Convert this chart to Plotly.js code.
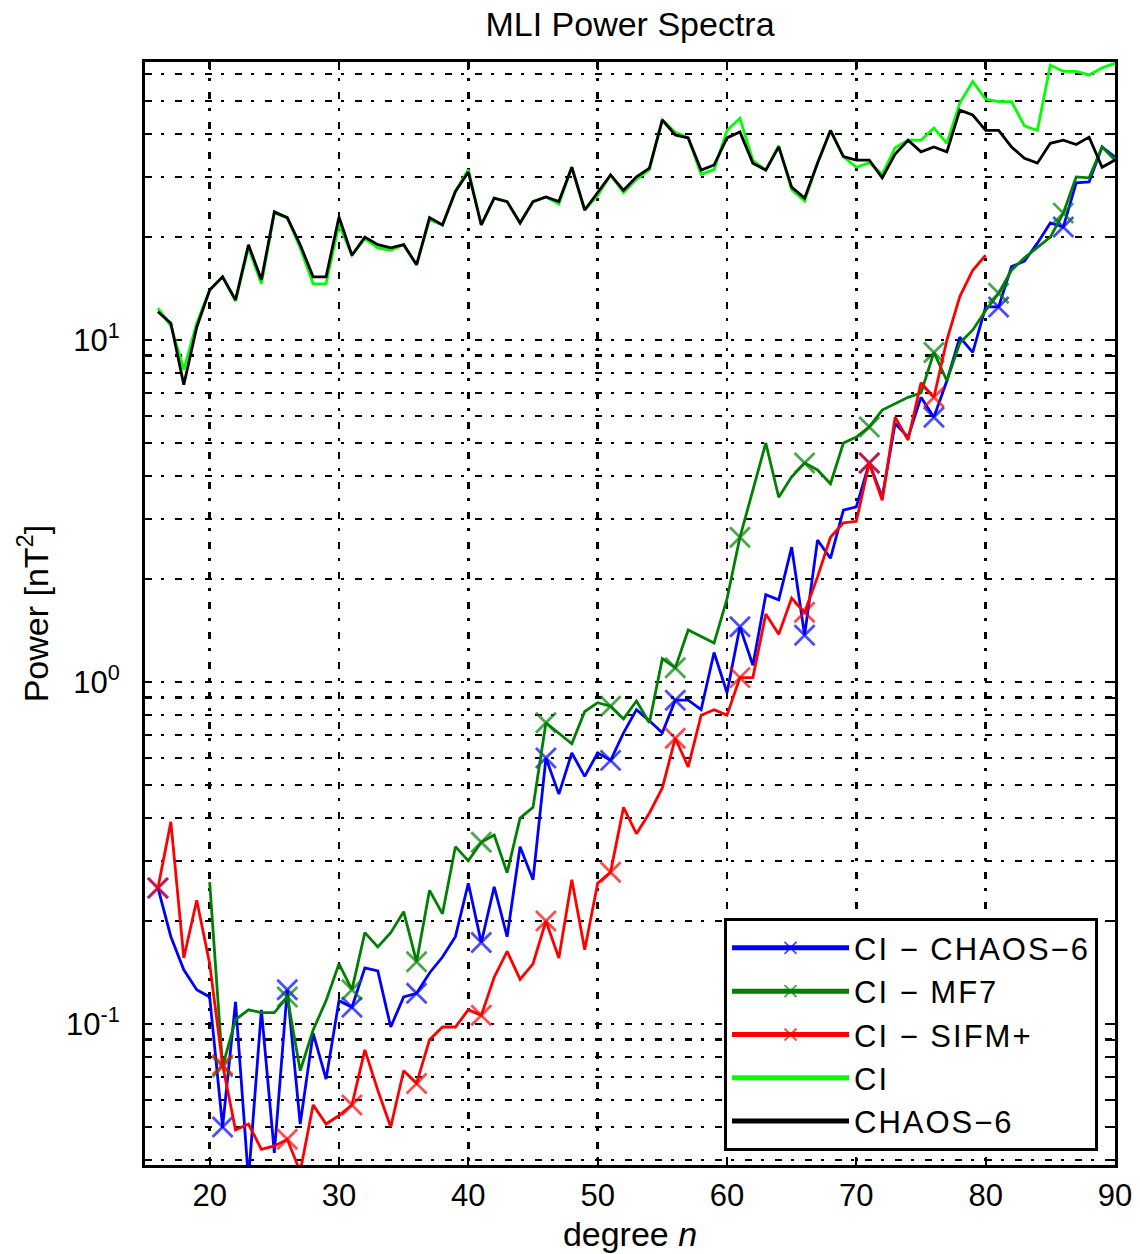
<!DOCTYPE html>
<html><head><meta charset="utf-8">
<script src="https://cdn.plot.ly/plotly-3.0.1.min.js"></script>
<style>
html,body{margin:0;padding:0;background:#fff;}
#chart{width:1140px;height:1254px;}
.legendtext{letter-spacing:2px;}
</style>
</head><body><div id="chart"></div>
<script>
// ---- data ----
const degreesAll = [16,17,18,19,20,21,22,23,24,25,26,27,28,29,30,31,32,33,34,35,36,37,38,39,40,41,42,43,44,45,46,47,48,49,50,51,52,53,54,55,56,57,58,59,60,61,62,63,64,65,66,67,68,69,70,71,72,73,74,75,76,77,78,79,80,81,82,83,84,85,86,87,88,89,90];
const chaos6 = [12.1,11.2,7.4,10.9,14.0,15.3,13.1,19.0,15.0,23.7,22.8,19.0,15.3,15.3,22.9,17.7,20.0,19.0,18.6,19.0,16.6,22.8,21.7,27.2,31.0,21.7,26.0,25.4,22.0,25.4,26.2,25.4,32.0,24.0,27.0,30.4,27.4,30.0,31.8,44.0,39.8,39.0,31.4,32.5,39.0,40.6,32.9,31.4,36.7,28.0,26.0,32.9,41.0,34.4,33.6,33.6,29.8,35.0,38.4,35.5,36.7,35.5,47.0,45.5,41.0,41.0,36.7,34.0,32.9,37.6,38.4,37.3,39.2,32.0,33.6];
const ci = [12.4,11.0,8.2,11.2,14.0,15.3,13.0,18.6,14.6,23.5,22.8,18.6,14.6,14.6,21.8,17.7,19.8,18.6,18.3,19.0,16.6,22.5,21.7,27.2,31.5,21.7,26.0,25.4,22.0,25.4,26.2,25.0,32.0,24.0,26.5,30.4,27.0,29.5,31.5,44.0,40.5,39.0,30.5,31.5,41.0,44.5,33.5,31.4,37.0,27.5,25.5,33.0,41.0,34.4,32.0,33.0,30.5,36.5,38.4,38.4,41.7,37.6,49.3,57.0,50.6,49.8,49.8,42.3,41.0,63.7,61.0,61.0,59.6,62.5,64.5];
const ciMinusChaos6 = [0.25,0.18,0.144,0.126,0.12,0.05,0.116,0.035,0.11,0.042,0.126,0.051,0.094,0.069,0.117,0.112,0.146,0.143,0.098,0.12,0.123,0.141,0.157,0.18,0.258,0.173,0.252,0.18,0.33,0.264,0.60,0.47,0.62,0.53,0.62,0.59,0.71,0.83,0.77,0.71,0.885,0.885,0.83,1.22,0.93,1.45,1.12,1.8,1.74,2.48,1.37,2.6,2.3,3.18,3.25,4.37,3.47,5.7,5.2,6.8,5.95,7.6,10.2,9.2,12.5,12.5,16.4,17.0,19.2,22.0,21.4,28.8,29.0,36.7,34.3];
const degreesMf7 = [20,21,22,23,24,25,26,27,28,29,30,31,32,33,34,35,36,37,38,39,40,41,42,43,44,45,46,47,48,49,50,51,52,53,54,55,56,57,58,59,60,61,62,63,64,65,66,67,68,69,70,71,72,73,74,75,76,77,78,79,80,81,82,83,84,85,86,87,88,89,90];
const ciMinusMf7 = [0.26,0.075,0.103,0.11,0.108,0.108,0.12,0.073,0.096,0.117,0.15,0.126,0.185,0.168,0.185,0.213,0.152,0.246,0.21,0.33,0.30,0.34,0.357,0.277,0.40,0.43,0.76,0.71,0.66,0.82,0.87,0.85,0.78,0.88,0.76,1.17,1.1,1.42,1.36,1.3,1.75,2.65,3.64,5.0,3.47,3.98,4.37,4.17,3.8,5.0,5.2,5.57,6.24,6.5,6.8,7.0,9.2,7.6,9.8,10.7,12.2,13.7,16.0,17.4,18.7,20.0,23.5,30.0,29.8,36.7,33.6];
const degreesSifm = [16,17,18,19,20,21,22,23,24,25,26,27,28,29,30,31,32,33,34,35,36,37,38,39,40,41,42,43,44,45,46,47,48,49,50,51,52,53,54,55,56,57,58,59,60,61,62,63,64,65,66,67,68,69,70,71,72,73,74,75,76,77,78,79,80];
const ciMinusSifm = [0.25,0.39,0.156,0.23,0.15,0.076,0.049,0.051,0.043,0.044,0.046,0.037,0.058,0.051,0.054,0.058,0.084,0.064,0.05,0.073,0.067,0.09,0.098,0.098,0.11,0.106,0.137,0.163,0.135,0.15,0.2,0.156,0.264,0.165,0.258,0.278,0.43,0.36,0.414,0.49,0.685,0.565,0.8,0.83,0.8,1.03,1.03,1.58,1.38,1.76,1.6,2.03,2.65,2.92,2.95,4.37,3.4,5.95,5.1,7.5,6.8,10.0,13.4,16.0,17.7];

const xTickVals = [20,30,40,50,60,70,80,90];
const xTickText = ['20','30','40','50','60','70','80','90'];
const yMajorVals = [0.1, 1, 10];
const yMajorText = ['10<sup>-1</sup>','10<sup>0</sup>','10<sup>1</sup>'];

// ---- minor log gridlines (2..9 x decade) ----
const yMinorVals = [];
[0.01, 0.1, 1, 10].forEach(function(dec){
  [2,3,4,5,6,7,8,9].forEach(function(d){
    const v = +(d*dec).toPrecision(3);
    if (v >= 0.0387 && v <= 65) yMinorVals.push(v);
  });
});

function markerSizes(deg){ return deg.map(function(n){ return ((n - 16) % 5 === 0) ? 20 : 0; }); }

const FONT = 'Liberation Sans, Arial, Helvetica, sans-serif';
const LW = 2.8;

function diffTrace(x, y, name, color){
  return {x:x, y:y, name:name, type:'scatter', mode:'lines+markers',
    line:{color:color, width:LW},
    marker:{symbol:'x-thin-open', size:markerSizes(x), color:color, line:{color:color, width:LW}},
    cliponaxis:true};
}

const traces = [
  diffTrace(degreesAll, ciMinusChaos6, 'CI \u2212 CHAOS\u22126', '#0000ff'),
  diffTrace(degreesMf7, ciMinusMf7, 'CI \u2212 MF7', '#008000'),
  diffTrace(degreesSifm, ciMinusSifm, 'CI \u2212 SIFM+', '#ff0000'),
  {x:degreesAll, y:ci, name:'CI', type:'scatter', mode:'lines', line:{color:'#00ff00', width:LW}},
  {x:degreesAll, y:chaos6, name:'CHAOS\u22126', type:'scatter', mode:'lines', line:{color:'#000000', width:LW}}
];

const gridDash = '7px,9px,3px,11px';

const layout = {
  width:1140, height:1254,
  margin:{l:145, r:25, t:62, b:89},
  paper_bgcolor:'#ffffff', plot_bgcolor:'#ffffff',
  font:{family:FONT, size:30, color:'#000'},
  showlegend:true,
  title:{text:'MLI Power Spectra', x:0.5, xref:'paper', xanchor:'center', y:1-24/1254, yref:'container', yanchor:'middle', font:{family:FONT, size:34, color:'#000'}},
  xaxis:{range:[15,90], tickmode:'array', tickvals:xTickVals, ticktext:xTickText,
    ticks:'inside', ticklen:8, tickwidth:2, tickcolor:'#000',
    showline:true, linewidth:3, linecolor:'#000', mirror:'ticks',
    showgrid:true, gridcolor:'#000', gridwidth:2.5, griddash:gridDash, zeroline:false,
    tickfont:{family:FONT, size:31}, ticklabelstandoff:1,
    title:{text:'degree <i>n</i>', font:{family:FONT, size:34}, standoff:10}},
  yaxis:{type:'log', range:[-1.4123, 1.813], tickmode:'array', tickvals:yMajorVals, ticktext:yMajorText,
    ticks:'inside', ticklen:7, tickwidth:2, tickcolor:'#000',
    showline:true, linewidth:3, linecolor:'#000', mirror:'ticks',
    showgrid:true, gridcolor:'#000', gridwidth:2.5, griddash:gridDash, zeroline:false,
    minor:{tickmode:'array', tickvals:yMinorVals, ticks:'inside', ticklen:5, tickwidth:2, tickcolor:'#000',
      showgrid:true, gridcolor:'#000', gridwidth:2.5, griddash:gridDash},
    tickfont:{family:FONT, size:31}, ticklabelstandoff:16,
    title:{text:'Power [nT<sup>2</sup>]', font:{family:FONT, size:34}, standoff:8}},
  legend:{x:0.9825, xanchor:'right', y:0.0125, yanchor:'bottom', xref:'paper', yref:'paper',
    bgcolor:'#ffffff', bordercolor:'#000', borderwidth:3,
    font:{family:FONT, size:31, color:'#000'}, itemsizing:'constant', itemwidth:117, tracegroupgap:0}
};

Plotly.newPlot('chart', traces, layout, {displayModeBar:false, staticPlot:true});
</script>
</body></html>
